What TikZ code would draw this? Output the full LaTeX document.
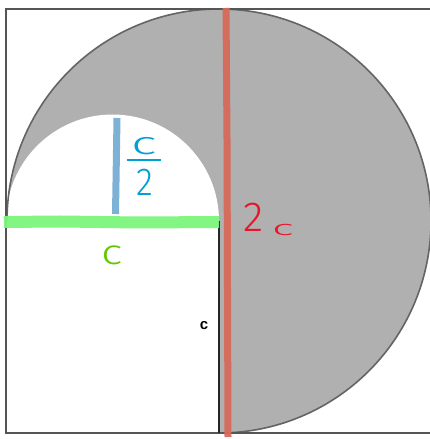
\documentclass[tikz,border=0pt]{standalone}
\usepackage{fontspec}
\setmainfont{Liberation Sans}
\newfontfamily\handfont{Fira Sans Light}
\definecolor{greyfill}{RGB}{176,176,176}
\definecolor{rim}{RGB}{100,100,100}
\definecolor{frameC}{RGB}{85,85,85}
\definecolor{hgreen}{RGB}{125,245,125}
\definecolor{hblue}{RGB}{125,178,214}
\definecolor{hred}{RGB}{216,106,90}
\definecolor{tblue}{RGB}{0,160,215}
\definecolor{tred}{RGB}{232,20,40}
\definecolor{tgreen}{RGB}{100,200,0}
\tikzset{
  lbl/.style={inner sep=0pt, outer sep=0pt, anchor=center, font=\handfont},
  marker/.style={line width=#1, line cap=butt},
}
\begin{document}
\begin{tikzpicture}[x=1pt,y=1pt]
\useasboundingbox (0,0) rectangle (429,439);
% big disc
\fill[greyfill] (219,218) circle[radius=212];
% white regions
\fill[white] (6,218) arc[start angle=180, end angle=0, radius=106.5] -- cycle;
\fill[white] (5,218) rectangle (219,5);
% outline of the big disc (three quarters)
\draw[rim, line width=1.6pt] (7,218) arc[start angle=180, end angle=-90, radius=212];
% frame
\draw[frameC, line width=1.6pt] (431,430) -- (6,430) -- (6,6) -- (431,6);
% inner vertical edge
\draw[black!85, line width=1.6pt] (219,218) -- (219,6);
% highlighter strokes
\draw[hgreen, marker=12pt, opacity=0.95] (4,217) -- (60,217.5) -- (140,216.5) -- (219,217);
\draw[hblue, marker=7pt] (117,321) -- (115.5,225);
\draw[hred, marker=7pt, opacity=0.95] (226,431) -- (227,300) -- (228,2);
% labels
\node[lbl, text=tblue, xscale=1.7] (cTop) at (144,293) {\fontsize{32}{32}\selectfont c};
\draw[tblue, line width=2pt] (127,279) -- (161,279);
\node[lbl, text=tblue, xscale=0.9] (cTwo) at (145,257) {\fontsize{39}{39}\selectfont 2};
\node[lbl, text=tred] (rTwo) at (254,222) {\fontsize{42}{42}\selectfont 2};
\node[lbl, text=tred, xscale=2.2] (rC) at (283,209) {\fontsize{21}{21}\selectfont c};
\node[lbl, text=tgreen, xscale=1.3] (gC) at (112,184) {\fontsize{35}{35}\selectfont c};
\node[inner sep=0pt, text=black] (kC) at (204,113) {\fontsize{15}{15}\selectfont\bfseries c};
\end{tikzpicture}
\end{document}
